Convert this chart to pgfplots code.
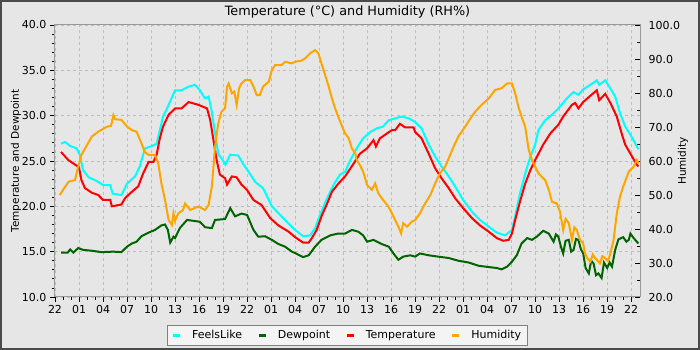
\documentclass[border=0pt]{standalone}
\usepackage{pgfplots}
\pgfplotsset{compat=1.18}
\usepackage{pgfplotstable}
\usepackage{fontspec}
\setmainfont{DejaVu Sans}

\definecolor{bgGray}{HTML}{E6E6E6}
\definecolor{frameDark}{HTML}{4A4A4A}
\definecolor{gridGray}{HTML}{BDBDBD}
\definecolor{axisGray}{HTML}{999999}
\definecolor{feels}{HTML}{00FFFF}
\definecolor{dew}{HTML}{006400}
\definecolor{temp}{HTML}{FF0000}
\definecolor{hum}{HTML}{FFA500}
\definecolor{legendBg}{HTML}{F4F4F4}

% hours since 22:00 on the first day
\pgfplotstableread{
h v
0.75 26.0
1.67 25.1
3.0 24.3
3.3 22.9
3.75 22.0
4.6 21.5
5.4 21.25
6.0 20.7
6.9 20.7
7.1 20.0
8.3 20.2
8.75 20.9
9.6 21.6
10.4 22.2
11.0 23.6
11.7 24.9
12.3 24.9
12.7 25.7
13.1 27.5
13.5 28.8
14.2 30.1
15.0 30.8
15.8 30.8
16.7 31.5
17.9 31.2
19.0 30.8
19.4 29.5
19.8 27.3
20.2 25.1
20.6 23.5
21.25 23.1
21.5 22.4
22.1 23.3
22.7 23.2
23.3 22.4
24.0 21.8
24.8 20.7
25.8 20.15
26.9 18.7
27.9 17.9
29.2 17.2
30.0 16.6
31.0 16.0
31.7 16.0
32.1 16.5
32.7 17.4
33.3 18.9
34.0 20.3
34.6 21.6
35.4 22.5
36.25 23.3
37.3 24.7
38.1 25.8
39.0 26.4
39.8 27.3
40.1 26.6
40.6 27.5
41.5 28.05
42.1 28.4
42.5 28.4
43.1 29.1
43.75 28.7
44.8 28.7
45.0 28.2
45.8 27.5
46.7 25.8
47.5 24.2
48.3 23.1
49.2 22.0
50.0 20.9
51.0 19.8
52.1 18.7
53.1 17.9
54.2 17.2
55.2 16.5
56.0 16.2
56.7 16.3
57.1 17.0
57.5 18.5
58.1 20.5
58.75 22.5
59.4 24.0
60.0 25.1
61.0 26.8
61.9 28.05
62.9 29.0
63.5 29.9
64.6 31.2
65.0 31.4
65.4 30.8
66.0 31.5
66.9 32.2
67.7 32.8
68.0 31.7
68.75 32.4
69.4 31.4
70.2 29.9
70.8 28.05
71.25 26.8
72.1 25.5
72.7 24.6
72.9 24.4
}\temperature

\pgfplotstableread{
h v
0.75 26.9
1.25 27.1
1.9 26.65
2.7 26.4
3.1 25.7
3.5 24.0
4.2 23.2
5.2 22.8
6.0 22.35
6.9 22.35
7.2 21.4
8.3 21.25
9.0 22.5
10.0 23.3
10.6 24.4
11.25 26.4
12.1 26.65
12.7 26.9
13.1 28.4
13.5 29.9
14.0 30.8
15.0 32.8
15.8 32.8
16.7 33.2
17.5 33.4
18.1 32.8
18.75 31.9
19.2 32.1
19.6 30.4
20.0 28.05
20.4 25.8
20.8 25.3
21.3 24.6
21.9 25.7
22.9 25.6
23.5 24.7
24.2 23.8
25.0 22.7
26.0 22.0
27.1 20.0
28.3 18.9
29.4 17.9
30.0 17.4
31.0 16.7
31.9 16.8
32.5 17.6
33.1 19.0
34.0 20.9
34.8 22.35
35.6 23.5
36.25 23.8
36.9 25.1
37.7 26.4
38.5 27.5
39.4 28.2
40.2 28.6
41.0 28.8
41.7 29.5
42.5 29.7
43.3 29.9
44.2 29.7
45.0 29.3
45.8 28.6
46.7 26.8
47.5 25.5
48.3 24.4
49.2 23.3
50.0 22.2
51.0 20.7
52.1 19.4
53.1 18.5
54.2 17.75
55.2 17.1
56.25 16.8
57.1 17.4
57.5 18.9
58.1 21.4
58.75 23.6
59.4 25.5
60.0 26.8
60.4 28.4
61.25 29.5
62.1 30.1
62.9 30.8
63.75 31.7
64.4 32.3
64.8 32.6
65.4 32.3
66.0 32.9
66.9 33.4
67.7 33.9
68.0 33.4
68.75 33.9
69.4 33.0
70.0 32.1
70.6 30.3
71.25 28.8
71.9 27.9
72.5 26.95
72.9 26.3
}\feelslike

\pgfplotstableread{
h v
0.75 14.9
1.6 14.9
1.9 15.25
2.3 14.9
2.9 15.4
3.5 15.2
4.6 15.1
5.8 14.95
7.3 15.0
8.3 14.95
9.0 15.55
9.6 15.9
10.2 16.1
10.8 16.7
11.7 17.1
12.5 17.4
13.3 17.9
13.75 18.0
14.1 17.4
14.4 16.0
14.8 16.65
15.0 16.5
15.6 17.6
16.5 18.5
17.3 18.4
18.1 18.3
18.75 17.7
19.6 17.6
20.0 18.5
21.25 18.6
21.9 19.8
22.5 18.9
23.3 19.2
24.0 19.05
24.8 17.4
25.4 16.65
26.25 16.7
27.1 16.3
27.9 15.85
28.75 15.55
29.6 15.0
30.0 14.85
31.0 14.4
31.7 14.6
32.5 15.55
33.3 16.3
34.4 16.8
35.4 17.0
36.25 17.0
37.1 17.4
37.9 17.2
38.5 16.8
39.0 16.1
39.8 16.3
40.8 15.85
41.7 15.55
42.3 14.8
42.9 14.1
43.5 14.45
44.4 14.6
45.0 14.45
45.6 14.8
46.7 14.6
47.9 14.45
49.2 14.3
50.4 14.0
51.7 13.8
52.9 13.45
54.2 13.3
55.2 13.2
55.8 13.05
56.5 13.35
57.1 13.9
57.7 14.6
58.3 15.9
59.0 16.5
59.6 16.3
60.2 16.65
61.0 17.3
61.7 17.0
62.3 16.1
62.6 16.9
62.9 16.65
63.2 15.6
63.5 14.8
63.8 16.2
64.2 16.3
64.5 15.0
64.8 15.2
65.1 16.4
65.4 16.3
65.7 15.3
66.0 14.8
66.3 13.2
66.7 12.6
67.0 14.0
67.3 13.7
67.6 12.4
67.9 12.6
68.3 12.1
68.6 13.8
69.0 13.2
69.3 13.8
69.6 13.35
70.0 15.2
70.4 16.35
71.0 16.6
71.4 16.1
71.7 16.3
71.9 17.0
72.3 16.5
72.9 15.9
}\dewpoint

\pgfplotstableread{
h v
0.6 50.0
1.0 51.5
1.7 53.9
2.5 54.4
2.8 57.4
3.3 61.8
4.0 64.7
4.6 67.2
5.4 68.6
6.5 70.1
7.0 70.3
7.3 73.5
7.5 72.3
8.3 72.1
9.0 70.1
9.6 69.1
10.2 68.6
10.8 65.2
11.2 62.7
11.7 61.8
12.5 61.8
12.9 59.3
13.3 53.4
13.75 48.5
14.2 42.6
14.6 41.2
14.8 44.6
15.0 42.4
15.4 44.6
16.0 45.6
16.25 47.5
16.9 45.6
17.9 46.6
18.75 45.6
19.2 47.1
19.6 52.5
19.8 58.3
20.0 64.2
20.4 71.1
20.8 74.5
21.25 75.5
21.5 81.9
21.7 82.8
22.1 79.9
22.4 80.4
22.7 76.5
23.0 81.4
23.3 82.8
23.75 83.8
24.4 83.8
24.8 81.9
25.2 79.4
25.6 79.4
26.0 81.9
26.7 83.3
27.1 86.8
27.5 88.2
28.3 88.2
28.75 89.2
29.6 88.7
30.0 89.2
30.8 89.5
31.25 90.2
31.9 91.7
32.5 92.6
32.9 91.7
33.3 88.7
33.75 85.3
34.2 81.9
34.6 78.4
35.0 75.5
35.4 73.0
35.8 70.6
36.25 68.1
36.7 66.7
37.1 63.7
37.5 62.3
37.7 60.3
38.1 58.8
38.5 56.9
39.0 52.9
39.6 51.5
40.0 53.4
40.4 50.5
41.0 48.5
41.5 47.1
41.9 45.6
42.3 43.6
42.9 40.7
43.25 38.7
43.5 41.7
44.0 40.7
44.6 42.2
45.0 42.6
45.6 44.6
46.25 47.5
46.9 50.0
47.5 53.4
48.1 56.4
48.75 58.3
49.2 60.8
49.8 64.2
50.4 67.2
51.25 70.1
51.9 72.5
52.5 74.5
53.3 76.5
54.2 78.4
55.0 80.9
55.8 81.4
56.5 82.8
57.1 82.8
57.5 79.9
57.9 76.0
58.3 73.0
58.75 70.1
59.2 63.2
59.6 60.3
60.0 58.3
60.4 56.4
60.8 55.4
61.25 54.4
61.7 51.5
62.1 48.0
62.7 47.5
63.1 45.1
63.5 39.7
63.8 43.0
64.2 41.7
64.6 36.8
64.9 40.5
65.2 39.7
65.6 36.8
66.0 35.8
66.2 33.0
66.5 31.4
66.9 30.4
67.2 32.5
67.5 31.4
68.1 29.9
68.4 32.0
68.75 31.4
69.1 30.6
69.4 32.8
69.8 36.8
70.2 44.6
70.6 49.5
71.0 52.5
71.7 56.9
72.3 58.3
72.7 60.3
72.9 59.3
}\humidity

\pgfplotsset{
  chartbase/.style={
    scale only axis, width=585pt, height=272pt,
    xmin=0, xmax=73.1,
    major tick length=5pt, minor tick length=3pt,
    every tick/.style={black, line width=0.8pt},
    axis line style={axisGray, line width=1pt},
    tick label style={font=\fontsize{11}{13}\selectfont},
    label style={font=\fontsize{10.5}{12}\selectfont},
  },
}

\begin{document}
\begin{tikzpicture}
\path[use as bounding box] (-55pt,-53pt) rectangle (645pt,297pt);
\fill[bgGray] (-55pt,-53pt) rectangle (645pt,297pt);

\begin{axis}[
  chartbase,
  ymin=10, ymax=40,
  xtick={0,3,...,72},
  xticklabels={22,01,04,07,10,13,16,19,22,01,04,07,10,13,16,19,22,01,04,07,10,13,16,19,22},
  minor x tick num=2,
  ytick={10,15,20,25,30,35,40},
  minor y tick num=4,
  yticklabel={\pgfmathprintnumber[fixed,fixed zerofill,precision=1,assume math mode=true]{\tick}},
  xtick pos=bottom, ytick pos=left, tick align=outside,
  grid=major,
  major grid style={gridGray, dash pattern=on 3pt off 3pt, line width=0.8pt},
  ylabel={Temperature and Dewpoint},
  ylabel style={at={(axis description cs:-0.0667,0.5)}, anchor=center},
  title={Temperature (°C) and Humidity (RH\%)},
  title style={at={(axis description cs:0.5,1)}, anchor=center, yshift=7pt,
    font=\fontsize{12.8}{15}\selectfont},
]
\addplot[feels, line width=2pt] table[x=h, y=v] {\feelslike};
\addplot[dew, line width=2pt] table[x=h, y=v] {\dewpoint};
\addplot[temp, line width=2pt] table[x=h, y=v] {\temperature};
\end{axis}

\begin{axis}[
  chartbase,
  ymin=20, ymax=100,
  axis x line=none, axis y line*=right,
  ytick={20,30,...,100},
  minor y tick num=1,
  yticklabel={\pgfmathprintnumber[fixed,fixed zerofill,precision=1,assume math mode=true]{\tick}},
  yticklabel style={anchor=west, xshift=5pt},
  tick align=inside,
  ylabel={Humidity},
  ylabel style={at={(axis description cs:1.0735,0.5)}, anchor=center},
  legend columns=4,
  legend style={at={(axis description cs:0.5,0)}, anchor=north, yshift=-28pt,
    fill=legendBg, draw=gray, line width=0.8pt,
    font=\fontsize{11}{13}\selectfont,
    /tikz/every even column/.append style={column sep=13.5pt},
    inner xsep=4pt, inner ysep=3pt},
  legend image code/.code={%
    \draw[line width=2.5pt] (0pt,0pt) -- (7pt,0pt);
    \path[draw=none] (0pt,0pt) -- (17pt,0pt);},
]
\addlegendimage{feels}
\addlegendentry{FeelsLike}
\addlegendimage{dew}
\addlegendentry{Dewpoint}
\addlegendimage{temp}
\addlegendentry{Temperature}
\addplot[hum, line width=2pt] table[x=h, y=v] {\humidity};
\addlegendentry{Humidity}
\end{axis}

\draw[frameDark, line width=2.5pt] (-53.75pt,-51.75pt) rectangle (643.75pt,295.75pt);
\end{tikzpicture}
\end{document}
